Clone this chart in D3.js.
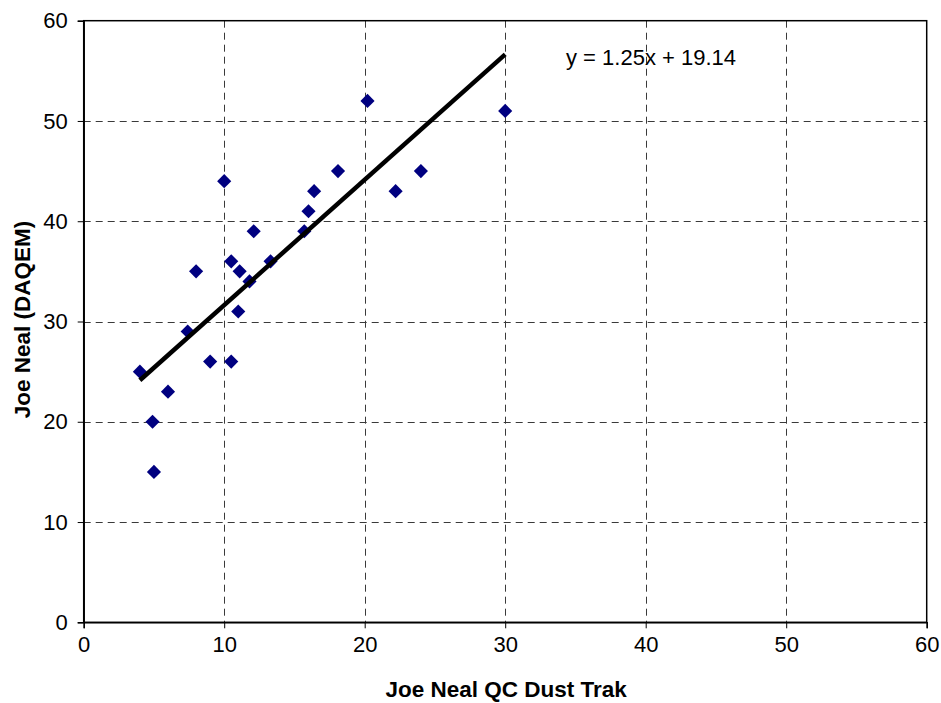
<!DOCTYPE html>
<html>
<head>
<meta charset="utf-8">
<script src="https://cdn.jsdelivr.net/npm/d3@7"></script>
<style>
  html, body { margin: 0; padding: 0; background: #fff; }
  svg { display: block; font-family: "Liberation Sans", Arial, sans-serif; }
</style>
</head>
<body>
<svg id="chart" width="941" height="703"></svg>
<script>
// ---- data ----
const xValues = [4, 4.9, 5, 6, 7.4, 8, 9, 10, 10.5, 10.5, 11, 11.1, 11.8, 12.1, 13.3, 15.7, 16, 16.4, 18.1, 20.2, 22.2, 24, 30];
const yValues = [25, 20, 15, 23, 29, 35, 26, 44, 36, 26, 31, 35, 34, 39, 36, 39, 41, 43, 45, 52, 43, 45, 51];
const xTicks = [0, 10, 20, 30, 40, 50, 60];
const yTicks = [0, 10, 20, 30, 40, 50, 60];
const trendSlope = 1.25;
const trendIntercept = 19.14;
const equationLabel = "y = 1.25x + 19.14";
const xTitle = "Joe Neal QC Dust Trak";
const yTitle = "Joe Neal (DAQEM)";

// ---- layout ----
const svg = d3.select("#chart");
const pL = 83.7, pR = 926.7, pT = 20.7, pB = 622.3;
const x = d3.scaleLinear().domain([0, 60]).range([pL, pR]);
const y = d3.scaleLinear().domain([0, 60]).range([pB, pT]);

// gridlines
const grid = svg.append("g");
grid.selectAll("line.vx").data(xTicks.filter(t => t > 0 && t < 60)).join("line")
  .attr("x1", d => Math.round(x(d)) + 0.5).attr("x2", d => Math.round(x(d)) + 0.5)
  .attr("y1", pT).attr("y2", pB)
  .attr("stroke", "#3a3a3a").attr("stroke-width", 1).attr("stroke-dasharray", "7,5");
grid.selectAll("line.hy").data(yTicks.filter(t => t > 0 && t < 60)).join("line")
  .attr("y1", d => Math.round(y(d)) + 0.5).attr("y2", d => Math.round(y(d)) + 0.5)
  .attr("x1", pL).attr("x2", pR)
  .attr("stroke", "#3a3a3a").attr("stroke-width", 1).attr("stroke-dasharray", "7,5");

// plot border
svg.append("rect")
  .attr("x", pL).attr("y", pT).attr("width", pR - pL).attr("height", pB - pT)
  .attr("fill", "none").attr("stroke", "#000").attr("stroke-width", 1.5);

// axes
const xAxis = svg.append("g").attr("transform", `translate(0,${pB})`)
  .call(d3.axisBottom(x).tickValues(xTicks).tickSize(6).tickPadding(8).tickFormat(d3.format("d")));
const yAxis = svg.append("g").attr("transform", `translate(${pL},0)`)
  .call(d3.axisLeft(y).tickValues(yTicks).tickSize(6).tickPadding(10).tickFormat(d3.format("d")));
[xAxis, yAxis].forEach(a => {
  a.select(".domain").attr("stroke", "#000").attr("stroke-width", 1.5);
  a.selectAll(".tick line").attr("stroke", "#000");
  a.selectAll(".tick text").attr("fill", "#000").style("font-size", "22px")
    .style("font-family", "'Liberation Sans', Arial, sans-serif");
});

// points (diamonds)
const pts = xValues.map((v, i) => ({ x: v, y: yValues[i] }));
const diamond = d3.symbol().type(d3.symbolSquare).size(100);
svg.append("g").selectAll("path").data(pts).join("path")
  .attr("d", diamond)
  .attr("transform", d => `translate(${x(d.x)},${y(d.y)}) rotate(45)`)
  .attr("fill", "#000080");

// trend line
const xMin = d3.min(xValues), xMax = d3.max(xValues);
const trend = [xMin, xMax].map(v => ({ x: v, y: trendSlope * v + trendIntercept }));
svg.append("path")
  .datum(trend)
  .attr("d", d3.line().x(d => x(d.x)).y(d => y(d.y)))
  .attr("stroke", "#000").attr("stroke-width", 4.5).attr("fill", "none");

// equation label
svg.append("text")
  .attr("x", 566).attr("y", 65)
  .style("font-size", "22px").attr("fill", "#000")
  .text(equationLabel);

// axis titles
svg.append("text")
  .attr("x", (pL + pR) / 2 + 1).attr("y", 697)
  .attr("text-anchor", "middle")
  .style("font-size", "22.5px").style("font-weight", "bold").attr("fill", "#000")
  .text(xTitle);
svg.append("text")
  .attr("transform", `translate(30,${(pT + pB) / 2 - 2}) rotate(-90)`)
  .attr("text-anchor", "middle")
  .style("font-size", "22.5px").style("font-weight", "bold").attr("fill", "#000")
  .text(yTitle);
</script>
</body>
</html>
